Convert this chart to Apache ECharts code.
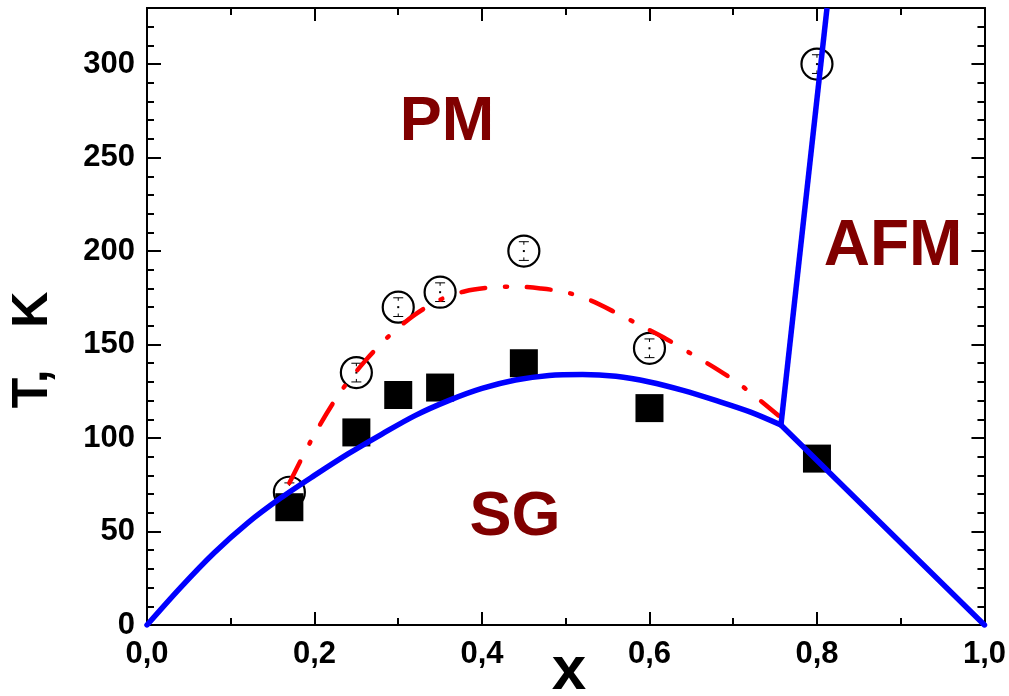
<!DOCTYPE html>
<html>
<head>
<meta charset="utf-8">
<script src="https://cdn.jsdelivr.net/npm/echarts@6/dist/echarts.min.js"></script>
<style>
html,body{margin:0;padding:0;background:#fff;}
#chart{width:1009px;height:696px;}
</style>
</head>
<body>
<div id="chart"></div>
<script>
// Measured points
const xPts = [0.17, 0.25, 0.30, 0.35, 0.45, 0.60, 0.80];
const sgT  = [63, 103, 123, 127, 140, 116, 89];        // filled squares
const pmT  = [71, 135, 170, 178, 200, 148, 300];       // open circles
const errT = [5, 5, 5, 5, 5, 5, 5];                     // error bars on circles

// Blue SG boundary (dome)
const blueX = [0, 0.04, 0.08, 0.12, 0.16, 0.20, 0.24, 0.28, 0.32, 0.36, 0.40, 0.44, 0.48, 0.52, 0.56, 0.60, 0.64, 0.68, 0.72, 0.757];
const blueT = [0, 20, 38.5, 54.5, 68, 80, 91.5, 102, 112, 120, 126.5, 131, 133.5, 134, 133, 130, 125.5, 120, 114, 107];
// Blue straight segments
const blueRightX = [0.757, 1.0];
const blueRightT = [107, 0];
const blueAfmX = [0.757, 0.812];
const blueAfmT = [107, 330];

// Red dash-dot line
const redX = [0.17, 0.20, 0.23, 0.26, 0.29, 0.32, 0.35, 0.38, 0.41, 0.44, 0.47, 0.50, 0.53, 0.56, 0.59, 0.62, 0.65, 0.68, 0.71, 0.754];
const redT = [76, 102, 124, 141, 155, 166, 174, 178.5, 180.5, 181, 180, 178, 173.5, 167, 160, 153, 145, 137, 128, 112];

// Axis ticks
const xMin = 0, xMax = 1, xInterval = 0.2;
const yMin = 0, yMax = 330, yInterval = 50, yMinorInterval = 10;

const zip = (a, b) => a.map((v, i) => [v, b[i]]);
const FONT = '"Liberation Sans", Arial, sans-serif';

const chart = echarts.init(document.getElementById('chart'));

const baseX = (pos, showLabel) => ({
  type: 'value', position: pos, min: xMin, max: xMax, interval: xInterval,
  axisLine: {show: true, onZero: false, lineStyle: {color: '#000', width: 2}},
  axisTick: {show: true, inside: true, length: 13, lineStyle: {color: '#000', width: 2}},
  minorTick: {show: true, splitNumber: 2, length: 7, lineStyle: {color: '#000', width: 2}},
  splitLine: {show: false}, minorSplitLine: {show: false},
  axisLabel: {show: showLabel, color: '#000', fontFamily: FONT, fontWeight: 'bold', fontSize: 31, margin: 14,
    formatter: v => v.toFixed(1).replace('.', ',')}
});
const baseY = (pos, interval, len, showLabel) => ({
  type: 'value', position: pos, min: yMin, max: yMax, interval: interval,
  axisLine: {show: true, onZero: false, lineStyle: {color: '#000', width: 2}},
  axisTick: {show: true, inside: true, length: len, lineStyle: {color: '#000', width: 2}},
  splitLine: {show: false},
  axisLabel: {show: showLabel, showMaxLabel: false, color: '#000', fontFamily: FONT, fontWeight: 'bold', fontSize: 31, margin: 12}
});

const errData = xPts.map((x, i) => [x, pmT[i] - errT[i], pmT[i] + errT[i], pmT[i]]);

chart.setOption({
  animation: false,
  backgroundColor: '#fff',
  grid: {left: 147, right: 22, top: 8, bottom: 71, containLabel: false},
  xAxis: [baseX('bottom', true), baseX('top', false)],
  yAxis: [
    baseY('left', yInterval, 14, true),
    baseY('left', yMinorInterval, 7, false),
    baseY('right', yInterval, 13, false),
    baseY('right', yMinorInterval, 7, false)
  ],
  series: [
    {
      type: 'scatter', data: zip(xPts, sgT), symbol: 'rect', symbolSize: 28, z: 2,
      itemStyle: {color: '#000', opacity: 1}
    },
    {
      type: 'scatter', data: zip(xPts, pmT), symbol: 'circle', symbolSize: 31, z: 3,
      itemStyle: {color: 'rgba(0,0,0,0)', borderColor: '#000', borderWidth: 2.2, opacity: 1}
    },
    {
      type: 'custom', data: errData, z: 3,
      renderItem: function (params, api) {
        const x = api.value(0);
        const pLo = api.coord([x, api.value(1)]);
        const pHi = api.coord([x, api.value(2)]);
        const pM = api.coord([x, api.value(3)]);
        const st = {stroke: '#000', lineWidth: 1};
        return {
          type: 'group', children: [
            {type: 'line', shape: {x1: pHi[0] - 5, y1: pHi[1], x2: pHi[0] + 5, y2: pHi[1]}, style: st},
            {type: 'line', shape: {x1: pHi[0], y1: pHi[1], x2: pHi[0], y2: pHi[1] + 3}, style: st},
            {type: 'line', shape: {x1: pLo[0] - 5, y1: pLo[1], x2: pLo[0] + 5, y2: pLo[1]}, style: st},
            {type: 'line', shape: {x1: pLo[0], y1: pLo[1], x2: pLo[0], y2: pLo[1] - 3}, style: st},
            {type: 'rect', shape: {x: pM[0] - 1, y: pM[1] - 1, width: 2, height: 2}, style: {fill: '#000'}}
          ]
        };
      }
    },
    {
      type: 'line', data: zip(redX, redT), smooth: 0.3, showSymbol: false, symbol: 'none', z: 4,
      lineStyle: {color: '#ff0000', width: 4.5, type: [24, 20, 2, 20], cap: 'round'}
    },
    {
      type: 'line', data: zip(blueX, blueT), smooth: 0.3, showSymbol: false, symbol: 'none', z: 5,
      lineStyle: {color: '#0000ff', width: 5.5, cap: 'round', join: 'round'}
    },
    {
      type: 'line', data: zip(blueRightX, blueRightT), showSymbol: false, symbol: 'none', z: 5,
      lineStyle: {color: '#0000ff', width: 5.5, cap: 'round', join: 'round'}
    },
    {
      type: 'line', data: zip(blueAfmX, blueAfmT), showSymbol: false, symbol: 'none', z: 5,
      lineStyle: {color: '#0000ff', width: 5.5, cap: 'butt', join: 'round'}
    }
  ],
  graphic: [
    {type: 'text', x: 447, y: 123, z: 10, style: {text: 'PM', font: 'bold 63px ' + FONT, fill: '#800000', textAlign: 'center', textVerticalAlign: 'middle'}},
    {type: 'text', x: 893, y: 247, z: 10, style: {text: 'AFM', font: 'bold 64px ' + FONT, fill: '#800000', textAlign: 'center', textVerticalAlign: 'middle'}},
    {type: 'text', x: 515, y: 518, z: 10, style: {text: 'SG', font: 'bold 63px ' + FONT, fill: '#800000', textAlign: 'center', textVerticalAlign: 'middle'}},
    {type: 'text', x: 33, y: 350, rotation: Math.PI / 2, z: 10, style: {text: 'T,   K', font: 'bold 50px ' + FONT, fill: '#000', textAlign: 'center', textVerticalAlign: 'middle'}},
    {type: 'text', x: 569, y: 672, z: 10, style: {text: 'x', font: 'bold 62px ' + FONT, fill: '#000', textAlign: 'center', textVerticalAlign: 'middle'}}
  ]
});
</script>
</body>
</html>
